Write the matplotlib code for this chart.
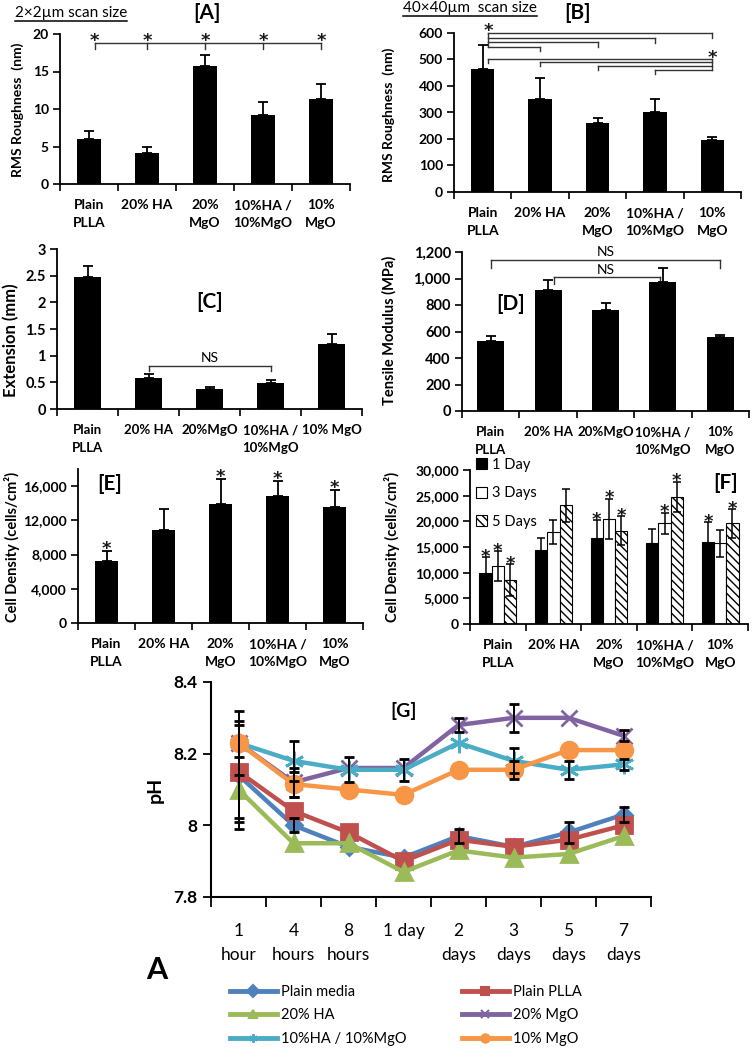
import numpy as np
import matplotlib
matplotlib.use("Agg")
import matplotlib.pyplot as plt
from matplotlib.lines import Line2D
from matplotlib.ticker import FuncFormatter

plt.rcParams['font.family'] = ['Lato', 'DejaVu Sans']
plt.rcParams['hatch.linewidth'] = 1.0

# ---------------- data ----------------
labels_ab = ["Plain\nPLLA", "20% HA", "20%\nMgO", "10%HA /\n10%MgO", "10%\nMgO"]
labels_c = ["Plain\nPLLA", "20% HA", "20%MgO", "10%HA /\n10%MgO", "10% MgO"]
labels_d = ["Plain\nPLLA", "20% HA", "20%MgO", "10%HA /\n10%MgO", "10%\nMgO"]
labels_ef = ["Plain\nPLLA", "20% HA", "20%\nMgO", "10%HA /\n10%MgO", "10%\nMgO"]

rms_2um = [6.0, 4.1, 15.8, 9.2, 11.3]
rms_2um_err = [1.1, 0.9, 1.4, 1.8, 2.1]
rms_40um = [465, 350, 262, 300, 198]
rms_40um_err = [90, 80, 18, 52, 10]
extension = [2.47, 0.58, 0.37, 0.49, 1.21]
extension_err = [0.22, 0.08, 0.04, 0.06, 0.19]
modulus = [530, 910, 760, 975, 558]
modulus_err = [35, 80, 55, 105, 17]
density = [7200, 10900, 13900, 14900, 13600]
density_err = [1200, 2400, 2900, 1700, 2000]
density_sig = [1, 0, 1, 1, 1]

day_labels = ["1 Day", "3 Days", "5 Days"]
density_1d = [10000, 14400, 16800, 15800, 16000]
density_1d_err = [3000, 2300, 3400, 2800, 3800]
density_3d = [11300, 17900, 20500, 19600, 15700]
density_3d_err = [2900, 2400, 3900, 2100, 2700]
density_5d = [8500, 23100, 18200, 24800, 19600]
density_5d_err = [3100, 3200, 2800, 2900, 2800]
sig_1d = [1, 0, 1, 0, 1]
sig_3d = [1, 0, 1, 1, 0]
sig_5d = [1, 0, 1, 1, 1]

times = ["1\nhour", "4\nhours", "8\nhours", "1 day", "2\ndays", "3\ndays", "5\ndays", "7\ndays"]
ph_names = ["Plain media", "Plain PLLA", "20% HA", "20% MgO", "10%HA / 10%MgO", "10% MgO"]
ph_plain_media = [8.14, 8.00, 7.94, 7.91, 7.97, 7.94, 7.98, 8.03]
ph_plain_plla = [8.15, 8.04, 7.98, 7.90, 7.96, 7.94, 7.96, 8.00]
ph_ha20 = [8.10, 7.95, 7.95, 7.87, 7.93, 7.91, 7.92, 7.97]
ph_mgo20 = [8.23, 8.12, 8.16, 8.16, 8.28, 8.30, 8.30, 8.25]
ph_ha10mgo10 = [8.23, 8.18, 8.155, 8.155, 8.23, 8.18, 8.155, 8.17]
ph_mgo10 = [8.23, 8.115, 8.10, 8.085, 8.155, 8.155, 8.21, 8.21]
err_plain_media = [0.15, 0.02, 0.01, 0.01, 0.02, 0.01, 0.03, 0.02]
err_plain_plla = [0.13, 0.01, 0.01, 0.01, 0.01, 0.01, 0.01, 0.01]
err_ha20 = [0.09, 0.01, 0.01, 0.01, 0.01, 0.01, 0.01, 0.01]
err_mgo20 = [0.01, 0.04, 0.01, 0.01, 0.02, 0.04, 0.01, 0.015]
err_ha10mgo10 = [0.01, 0.055, 0.035, 0.03, 0.01, 0.035, 0.025, 0.015]
err_mgo10 = [0.09, 0.035, 0.01, 0.01, 0.01, 0.025, 0.01, 0.01]

# ---------------- layout helpers ----------------
W, H = 752, 1050
fig = plt.figure(figsize=(W / 100, H / 100), dpi=100)


def rect(x0, y0, x1, y1):
    return [x0 / W, 1 - y1 / H, (x1 - x0) / W, (y1 - y0) / H]


def ftext(x, y, s, **kw):
    return fig.text(x / W, 1 - y / H, s, **kw)


def style(ax, labels, ylim, yticks, fmt=None, fs=10, xfs=10):
    n = len(labels)
    for s in ['top', 'right']:
        ax.spines[s].set_visible(False)
    for s in ['left', 'bottom']:
        ax.spines[s].set_linewidth(1.3)
    ax.set_xlim(-0.5, n - 0.5)
    ax.set_ylim(*ylim)
    ax.set_yticks(yticks)
    if fmt:
        ax.yaxis.set_major_formatter(FuncFormatter(fmt))
    ax.set_xticks(np.arange(n))
    ax.set_xticklabels(labels, fontsize=xfs, fontweight='bold', linespacing=1.6)
    ax.set_xticks(np.arange(-0.5, n, 1.0), minor=True)
    ax.tick_params(axis='x', which='major', length=0, pad=11)
    ax.tick_params(axis='x', which='minor', length=5, width=1.2, direction='out')
    ax.tick_params(axis='y', length=5, width=1.2, direction='out', labelsize=fs, pad=3)
    for t in ax.get_yticklabels():
        t.set_fontweight('bold')


def star(ax, x, y, fs=13):
    ax.annotate('*', xy=(x, y), xytext=(0, -7.7), textcoords='offset points',
                ha='center', va='baseline', fontsize=fs, fontweight='bold',
                family='DejaVu Sans', color='#1a1a1a', annotation_clip=False)


def bars(ax, vals, errs, width):
    x = np.arange(len(vals))
    ax.bar(x, vals, width, color='black', zorder=2)
    ax.errorbar(x, vals, yerr=[np.zeros(len(vals)), errs], fmt='none',
                ecolor='black', elinewidth=1.3, capsize=3.5, capthick=1.3, zorder=3)


comma = lambda v, p: f"{int(v):,}"
BR = dict(color='#333333', lw=1.0, clip_on=False)

# ---------------- [A] ----------------
axA = fig.add_axes(rect(60, 34, 350, 184))
bars(axA, rms_2um, rms_2um_err, 0.40)
style(axA, labels_ab, (0, 20), [0, 5, 10, 15, 20])
xs = np.arange(5)
axA.plot([xs[0] + 0.1, xs[-1]], [18.76, 18.76], **BR)
for i in xs:
    xi = i + 0.1 if i == 0 else i
    axA.plot([xi, xi], [18.76, 18.0], **BR)
    star(axA, xi, 19.8)
fig.text(18 / W, 1 - 110 / H, "RMS Roughness  (nm)", rotation=90, ha='center', va='center',
         fontsize=10, fontweight='bold')
tA = ftext(15, 13, "2×2µm scan size", fontsize=11, ha='left', va='center')
ftext(207, 13, "[A]", fontsize=15, fontweight='bold', ha='center', va='center')

# ---------------- [B] ----------------
axB = fig.add_axes(rect(454, 33, 741, 192))
bars(axB, rms_40um, rms_40um_err, 0.41)
style(axB, labels_ab, (0, 600), [0, 100, 200, 300, 400, 500, 600])
top_h = [549, 565, 581, 600]
x0 = 0.1
for j, h in zip([1, 2, 3, 4], top_h):
    axB.plot([x0, j], [h, h], **BR)
    axB.plot([j, j], [h, h - 17], **BR)
axB.plot([x0, x0], [min(top_h), max(top_h)], **BR)
low_h = [501, 489, 474, 459]
for i, h in zip([0, 1, 2, 3], low_h):
    xi = x0 if i == 0 else i
    axB.plot([xi, 4], [h, h], **BR)
    axB.plot([xi, xi], [h, h - 14], **BR)
axB.plot([4, 4], [min(low_h), max(low_h)], **BR)
star(axB, x0, 628)
star(axB, 4, 528)
fig.text(389 / W, 1 - 115 / H, "RMS Roughness  (nm)", rotation=90, ha='center', va='center',
         fontsize=10, fontweight='bold')
tB = ftext(403, 8, "40×40µm  scan size", fontsize=11, ha='left', va='center')
ftext(578, 13, "[B]", fontsize=15, fontweight='bold', ha='center', va='center')

# ---------------- [C] ----------------
axC = fig.add_axes(rect(57, 249, 362, 409))
bars(axC, extension, extension_err, 0.45)
style(axC, labels_c, (0, 3), [0, 0.5, 1, 1.5, 2, 2.5, 3], fmt=lambda v, p: f"{v:g}",
      fs=10.5, xfs=9.5)
axC.plot([1, 3], [0.80, 0.80], **BR)
axC.plot([1, 1], [0.80, 0.71], **BR)
axC.plot([3, 3], [0.80, 0.71], **BR)
axC.text(2, 0.96, "NS", ha='center', va='center', fontsize=10)
axC.text(2, 2.0, "[C]", ha='center', va='center', fontsize=15, fontweight='bold')
fig.text(11 / W, 1 - 340 / H, "Extension (mm)", rotation=90, ha='center', va='center',
         fontsize=12, fontweight='bold')

# ---------------- [D] ----------------
axD = fig.add_axes(rect(462, 252, 749, 411))
bars(axD, modulus, modulus_err, 0.47)
style(axD, labels_d, (0, 1200), [0, 200, 400, 600, 800, 1000, 1200], fmt=comma,
      fs=10.5, xfs=9.5)
axD.plot([0, 4], [1137, 1137], **BR)
axD.plot([0, 0], [1137, 1080], **BR)
axD.plot([4, 4], [1137, 1080], **BR)
axD.text(2, 1200, "NS", ha='center', va='center', fontsize=10, clip_on=False)
axD.plot([1.1, 2.95], [1012, 1012], **BR)
axD.plot([1.1, 1.1], [1012, 960], **BR)
axD.plot([2.95, 2.95], [1012, 990], **BR)
axD.text(2, 1062, "NS", ha='center', va='center', fontsize=10)
axD.text(0.35, 810, "[D]", ha='center', va='center', fontsize=15, fontweight='bold')
fig.text(389 / W, 1 - 330 / H, "Tensile Modulus (MPa)", rotation=90, ha='center', va='center',
         fontsize=10.5, fontweight='bold')

# ---------------- [E] ----------------
axE = fig.add_axes(rect(78, 469, 363, 623))
bars(axE, density, density_err, 0.40)
style(axE, labels_ef, (0, 18000), [0, 4000, 8000, 12000, 16000], fmt=comma, fs=10, xfs=10)
for i in range(5):
    if density_sig[i]:
        star(axE, i, density[i] + density_err[i] + 900)
axE.text(0.05, 16200, "[E]", ha='center', va='center', fontsize=15, fontweight='bold')
fig.text(12 / W, 1 - 547 / H, "Cell Density (cells/cm²)", rotation=90, ha='center', va='center',
         fontsize=10.5, fontweight='bold')

# ---------------- [F] ----------------
axF = fig.add_axes(rect(470, 470, 748, 624))
bw = 0.22
xs = np.arange(5)
series = [(density_1d, density_1d_err, sig_1d, dict(color='black', edgecolor='black')),
          (density_3d, density_3d_err, sig_3d, dict(color='white', edgecolor='black')),
          (density_5d, density_5d_err, sig_5d, dict(color='white', edgecolor='black', hatch='\\\\\\\\'))]
handles = []
for k, (v, e, sg, st) in enumerate(series):
    xk = xs + (k - 1) * bw
    b = axF.bar(xk, v, bw, linewidth=0.8, zorder=2, label=day_labels[k], **st)
    handles.append(b)
    axF.errorbar(xk, v, yerr=e, fmt='none', ecolor='black', elinewidth=1.1,
                 capsize=3, capthick=1.1, zorder=3)
    for i in range(5):
        if sg[i]:
            star(axF, xk[i], v[i] + e[i] + 1200)
style(axF, labels_ef, (0, 30000), [0, 5000, 10000, 15000, 20000, 25000, 30000], fmt=comma,
      fs=10, xfs=10)
axF.legend(handles=handles, loc='upper left', bbox_to_anchor=(0.02, 1.08), frameon=False,
           fontsize=10.5, handlelength=0.8, handleheight=0.8, handletextpad=0.3,
           labelspacing=1.0, borderpad=0, borderaxespad=0)
axF.text(4.1, 27500, "[F]", ha='center', va='center', fontsize=15, fontweight='bold')
fig.text(392 / W, 1 - 547 / H, "Cell Density (cells/cm²)", rotation=90, ha='center', va='center',
         fontsize=10.5, fontweight='bold')

# ---------------- [G] ----------------
axG = fig.add_axes(rect(211, 682, 651, 897))
xg = np.arange(len(times))
ph_series = [ph_plain_media, ph_plain_plla, ph_ha20, ph_mgo20, ph_ha10mgo10, ph_mgo10]
ph_errs = [err_plain_media, err_plain_plla, err_ha20, err_mgo20, err_ha10mgo10, err_mgo10]
colors = ['#4F81BD', '#C0504D', '#9BBB59', '#8064A2', '#4BACC6', '#F79646']
markers = ['D', 's', '^', 'x', (6, 2, 0), 'o']
msizes = [8, 12, 11, 11, 14, 12]
for v, c, m, ms in zip(ph_series, colors, markers, msizes):
    axG.plot(xg, v, color=c, lw=3.2, marker=m, ms=ms, mec=c, mfc=c, mew=2,
             zorder=2, clip_on=False)
for v, e in zip(ph_series, ph_errs):
    v = np.asarray(v)
    e = np.asarray(e)
    sel = e >= 0.015
    axG.errorbar(xg[sel], v[sel], yerr=e[sel], fmt='none', ecolor='black', elinewidth=1.4,
                 capsize=3.5, capthick=2, zorder=4)
for s in ['top', 'right']:
    axG.spines[s].set_visible(False)
for s in ['left', 'bottom']:
    axG.spines[s].set_linewidth(1.5)
axG.set_xlim(-0.5, len(times) - 0.5)
axG.set_ylim(7.8, 8.4)
axG.set_yticks([7.8, 8.0, 8.2, 8.4])
axG.set_yticklabels(["7.8", "8", "8.2", "8.4"], fontsize=12.5, fontweight='bold')
axG.set_xticks(xg)
axG.set_xticklabels(times, fontsize=12.5, linespacing=1.55)
axG.set_xticks(np.arange(-0.5, len(times), 1.0), minor=True)
axG.tick_params(axis='x', which='major', length=0, pad=19)
axG.tick_params(axis='x', which='minor', length=7, width=1.3, direction='out')
axG.tick_params(axis='y', length=6, width=1.3, direction='out', pad=4)
axG.text(3.0, 8.32, "[G]", ha='center', va='center', fontsize=14, fontweight='bold')
ftext(155, 790, "pH", rotation=90, ha='center', va='center', fontsize=14, fontweight='bold')
ftext(157, 970, "A", ha='center', va='center', fontsize=22, fontweight='bold')

leg_handles = [Line2D([0], [0], color=c, lw=3.5, marker=m, ms=6, mec=c, mfc=c, mew=1.5)
               for c, m in zip(colors, markers)]
order = [0, 2, 4, 1, 3, 5]
fig.legend([leg_handles[i] for i in order], [ph_names[i] for i in order], ncol=2,
           loc='upper left', bbox_to_anchor=(230 / W, 1 - 985 / H), frameon=False,
           fontsize=10.5, handlelength=3.2, handletextpad=0.3, columnspacing=3.8,
           labelspacing=0.65, borderpad=0, borderaxespad=0, numpoints=1)

# underlines for the scan-size notes
fig.canvas.draw()
r = fig.canvas.get_renderer()
for t in (tA, tB):
    bb = t.get_window_extent(r)
    yline = bb.y0 - 1
    fig.add_artist(Line2D([bb.x0 / W, bb.x1 / W], [yline / H, yline / H], color='black', lw=1.1))

fig.savefig("out.png", dpi=100)
